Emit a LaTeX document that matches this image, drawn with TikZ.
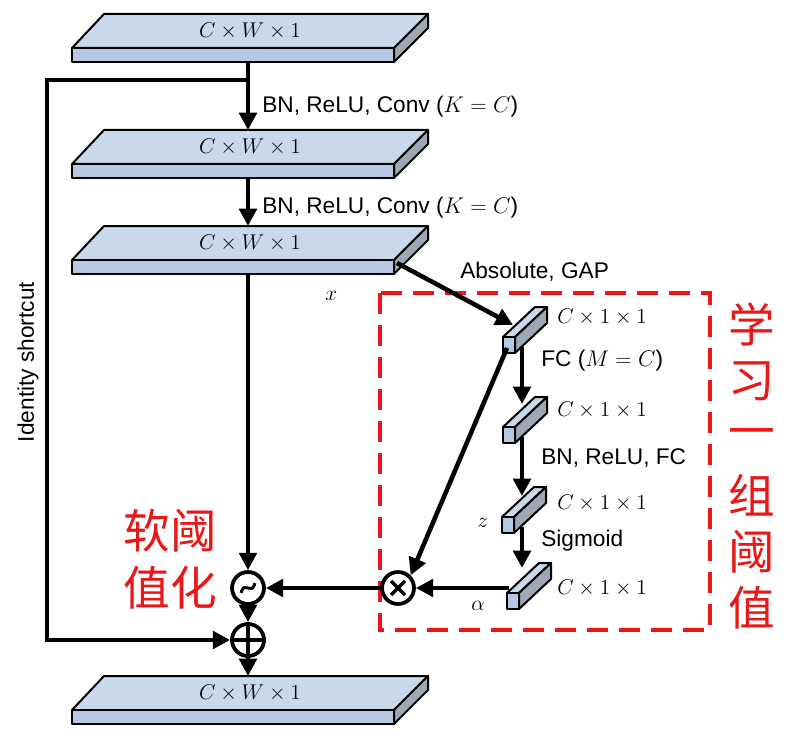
\documentclass[tikz,border=0pt]{standalone}
\usepackage{fix-cm}
\usepackage{fontspec}
\setmainfont{Liberation Sans}
\newfontfamily\cjk{Noto Sans CJK SC}
\usetikzlibrary{arrows.meta}
\definecolor{slabtop}{RGB}{200,217,236}
\definecolor{slabfront}{RGB}{182,200,228}
\definecolor{slabside}{RGB}{158,168,180}
\definecolor{hired}{RGB}{232,24,24}
\tikzset{
  flow/.style={line width=3.4pt,-{Triangle[length=13pt,width=13pt]}},
  facedraw/.style={draw=black,line width=1.5pt,line join=round},
  lbl/.style={font=\fontsize{17}{20}\selectfont,inner sep=0pt,anchor=west},
  mlbl/.style={font=\fontsize{16}{19}\selectfont,inner sep=0pt,anchor=west},
  opnode/.style={circle,draw,line width=2.8pt,minimum size=24pt,inner sep=0pt},
  redtxt/.style={text=hired,font=\cjk\fontsize{35}{40}\selectfont,inner sep=0pt}
}
\newcommand\drawslab[2]{% #1 name, #2 front top y
  \fill[slabtop,facedraw] (72,#2) -- (394,#2) -- (428,#2-34) -- (104,#2-34) -- cycle;
  \fill[slabfront,facedraw] (72,#2) rectangle (394,#2+14);
  \fill[slabside,facedraw] (394,#2) -- (428,#2-34) -- (428,#2-20) -- (394,#2+14) -- cycle;
  \node[font=\fontsize{16}{19}\selectfont] (#1) at (250,#2-17) {$C\times W\times 1$};
  \coordinate (#1top) at (248,#2-34);
  \coordinate (#1bot) at (248,#2+14);
}
\newcommand\drawcube[3]{% #1 name, #2 left x, #3 front top y
  \fill[slabtop,facedraw] (#2,#3) -- (#2+12,#3) -- (#2+44,#3-30) -- (#2+32,#3-30) -- cycle;
  \fill[slabside,facedraw] (#2+12,#3) -- (#2+44,#3-30) -- (#2+44,#3-14) -- (#2+12,#3+16) -- cycle;
  \fill[slabfront,facedraw] (#2,#3) rectangle (#2+12,#3+16);
  \coordinate (#1) at (#2+6,#3+8);
}
\begin{document}
\begin{tikzpicture}[x=0.75pt,y=-0.75pt]
\useasboundingbox (0,0) rectangle (796,738);
% red dashed box
\draw[hired,line width=2.4pt,dash pattern=on 16pt off 8pt] (380,293) rectangle (710,630);
% slabs
\drawslab{s1}{48}
\drawslab{s2}{164}
\drawslab{s3}{260}
\drawslab{s4}{710}
% cubes
\drawcube{c1}{503}{337}
\drawcube{c2}{503}{427}
\drawcube{c3}{502}{517}
\drawcube{c4}{507}{593}
% operators
\node[opnode] (soft) at (248,588) {};
\draw[line width=2.2pt] (soft.center) ++(-7,5) .. controls +(4,-14) and +(-4,14) .. ++(14,-10);
\node[opnode] (mul) at (398,588) {};
\draw[line width=2.6pt] (mul.center) ++(-7,-7) -- ++(14,14) (mul.center) ++(-7,7) -- ++(14,-14);
\node[opnode] (add) at (248,640) {};
\draw[line width=2.6pt] (add.north) -- (add.south) (add.west) -- (add.east);
% main flow
\coordinate (split) at (248,80);
\coordinate (scL) at (47,80);
\coordinate (scB) at (47,640);
\draw[flow] (s1bot) -- (s2top);
\draw[flow] (s2bot) -- (s3top);
\draw[flow] (s3bot) -- (soft.north);
\draw[flow] (soft.south) -- (add.north);
\draw[flow] (add.south) -- (s4top);
\draw[flow] (split) -- (scL) -- (scB) -- (add.west);
% branch
\coordinate (s3r) at (397,263);
\coordinate (c1in) at (513,325);
\draw[flow] (s3r) -- (c1in);
\draw[flow] (522,347) -- (522,404);
\draw[flow] (522,437) -- (522,496);
\draw[flow] (522,527) -- (522,568);
\draw[flow] (507,348) -- (mul.north east);
\draw[flow] (509,588) -- (mul.east);
\draw[flow] (mul.west) -- (soft.east);
% labels
\node[lbl] (l1) at (262,107) {BN, ReLU, Conv ($K=C$)};
\node[lbl] (l2) at (262,208) {BN, ReLU, Conv ($K=C$)};
\node[lbl] (l3) at (460,272) {Absolute, GAP};
\node[mlbl] (lx) at (325,296) {$x$};
\node[mlbl] (d1) at (557,317) {$C\times1\times1$};
\node[mlbl] (d2) at (557,410) {$C\times1\times1$};
\node[mlbl] (d3) at (557,503) {$C\times1\times1$};
\node[mlbl] (d4) at (557,588) {$C\times1\times1$};
\node[lbl] (f1) at (541,361) {FC ($M=C$)};
\node[lbl] (f2) at (541,458) {BN, ReLU, FC};
\node[lbl] (f3) at (541,541) {Sigmoid};
\node[mlbl] (lz) at (477,523) {$z$};
\node[mlbl] (la) at (471,606) {$\alpha$};
\node[font=\fontsize{17}{20}\selectfont,rotate=90,inner sep=0pt] (idsc) at (28,362) {Identity shortcut};
\node[redtxt] (r1) at (170,531) {软阈};
\node[redtxt] (r2) at (170,588) {值化};
\node[redtxt] (v1) at (752,325) {学};
\node[redtxt] (v2) at (752,381) {习};
\node[redtxt] (v3) at (752,438) {一};
\node[redtxt] (v4) at (752,495) {组};
\node[redtxt] (v5) at (752,552) {阈};
\node[redtxt] (v6) at (752,608) {值};
\end{tikzpicture}
\end{document}
